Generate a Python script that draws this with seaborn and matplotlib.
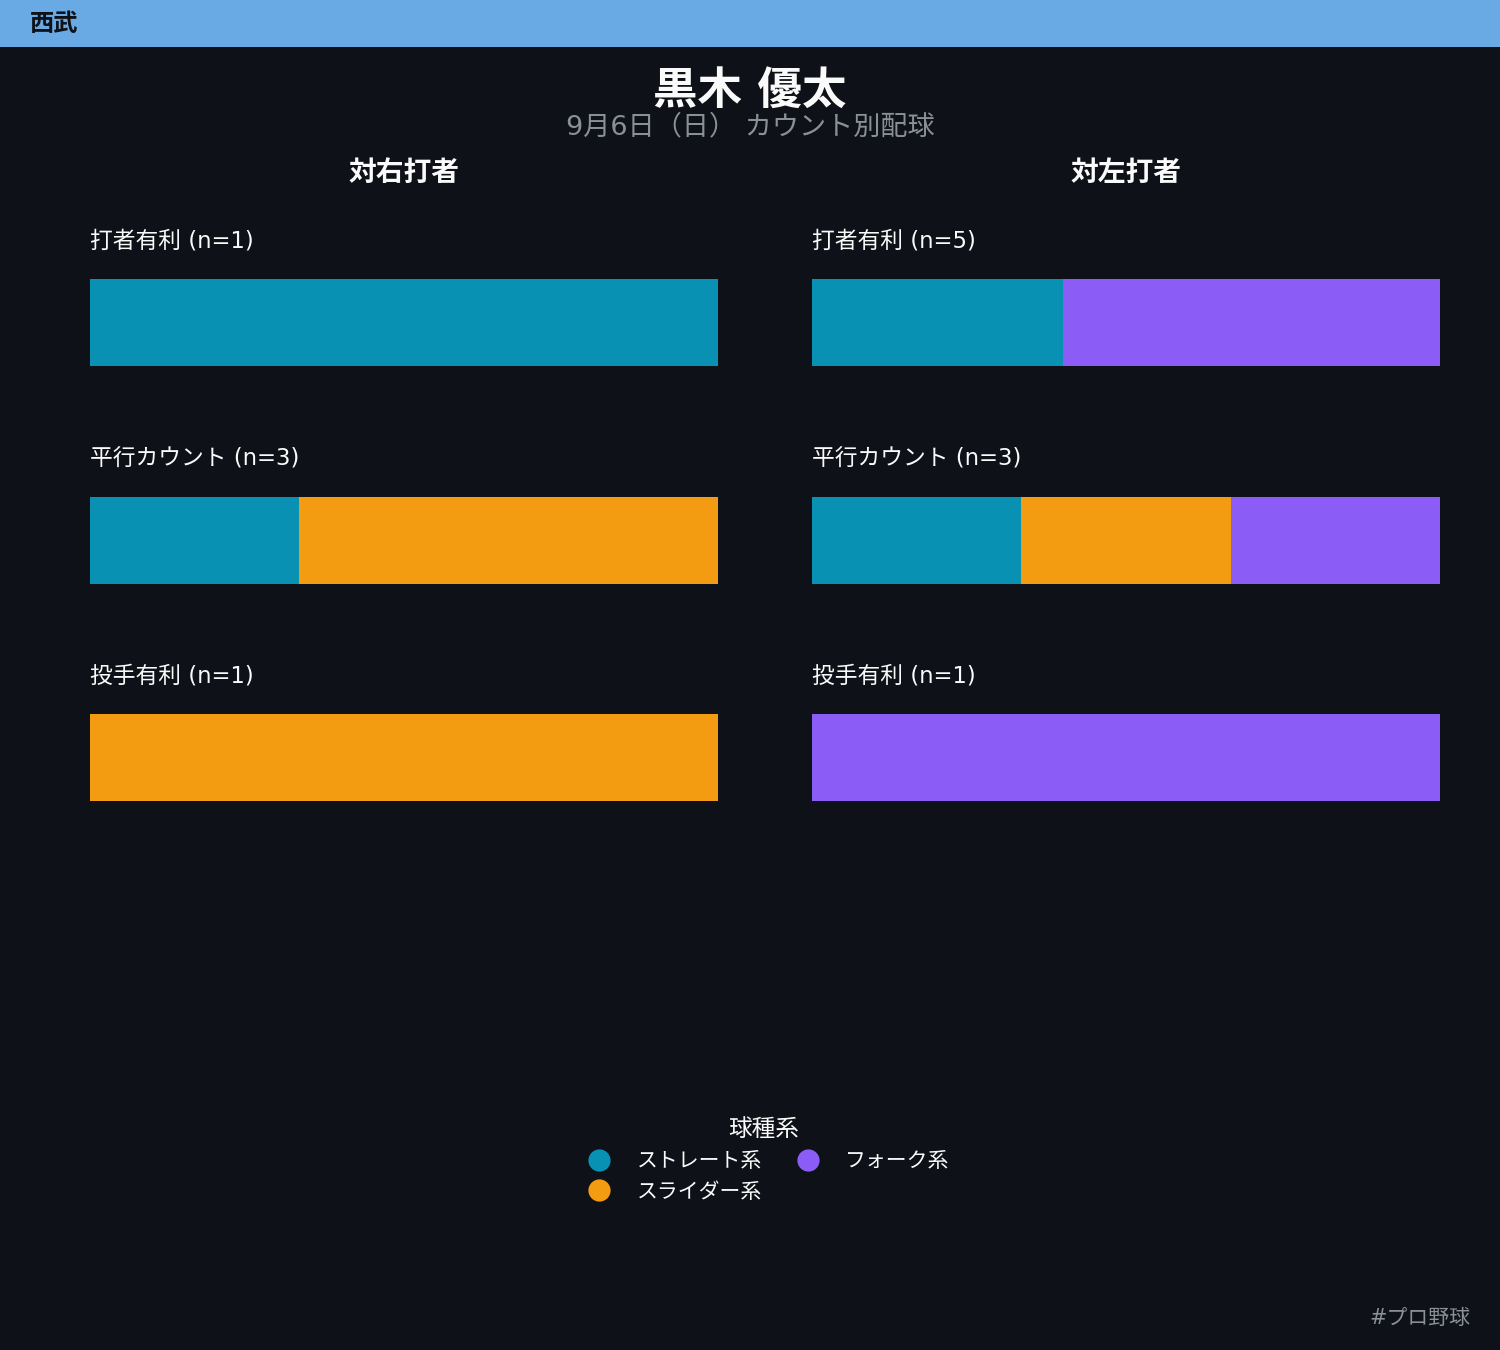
import numpy as np
import pandas as pd
import matplotlib
matplotlib.use("Agg")
import matplotlib.pyplot as plt
from matplotlib.lines import Line2D
import seaborn as sns

sns.set_theme(style="white")
plt.rcParams["font.family"] = ["DejaVu Sans", "Noto Sans CJK JP"]

# data
team = "西武"
pitcher = "黒木 優太"
subtitle = "9月6日（日） カウント別配球"
sides = ["対右打者", "対左打者"]
counts = ["打者有利", "平行カウント", "投手有利"]
pitch_types = ["ストレート系", "スライダー系", "フォーク系"]
vs_right_straight = [1, 1, 0]
vs_right_slider = [0, 2, 1]
vs_right_fork = [0, 0, 0]
vs_left_straight = [2, 1, 0]
vs_left_slider = [0, 1, 0]
vs_left_fork = [3, 1, 1]

colors = {"ストレート系": "#0891b2", "スライダー系": "#f39c12", "フォーク系": "#8b5cf6"}
bg = "#0e1117"

tables = {
    "対右打者": pd.DataFrame({"count": counts, "ストレート系": vs_right_straight,
                          "スライダー系": vs_right_slider, "フォーク系": vs_right_fork}),
    "対左打者": pd.DataFrame({"count": counts, "ストレート系": vs_left_straight,
                          "スライダー系": vs_left_slider, "フォーク系": vs_left_fork}),
}

fig = plt.figure(figsize=(15, 13.5), dpi=100, facecolor=bg)

# team banner
fig.patches.append(plt.Rectangle((0, 1 - 47 / 1350), 1, 47 / 1350, transform=fig.transFigure,
                                 facecolor="#6aaae4", edgecolor="none", zorder=0))
fig.text(30 / 1500, 1 - 24 / 1350, team, fontsize=17.5, fontweight="bold", color="#0e1117",
         ha="left", va="center")

fig.text(0.5, 1 - 91 / 1350, pitcher, fontsize=32, fontweight="bold", color="#fafafa",
         ha="center", va="center")
fig.text(0.5, 1 - 127 / 1350, subtitle, fontsize=19.5, color="#8b8f98", ha="center", va="center")

lefts = [90 / 1500, 812 / 1500]
width = 628 / 1500
bottom = 1 - 801 / 1350
height = 522 / 1350

for side, left in zip(sides, lefts):
    df = tables[side]
    n = df[pitch_types].sum(axis=1)
    share = df[pitch_types].div(n, axis=0)
    cum = share.cumsum(axis=1)
    ax = fig.add_axes([left, bottom, width, height])
    ax.set_facecolor(bg)
    # draw cumulative shares from the widest to the narrowest so they stack
    for pt in reversed(pitch_types):
        sns.barplot(x=cum[pt], y=df["count"], order=counts, orient="h", color=colors[pt],
                    width=0.4, saturation=1, ax=ax, linewidth=0)
    ax.set_xlim(0, 1)
    ax.set_ylim(2.2, -0.2)
    ax.set_xlabel("")
    ax.set_ylabel("")
    ax.set_xticks([])
    ax.set_yticks([])
    for s in ax.spines.values():
        s.set_visible(False)
    for i, (c, k) in enumerate(zip(counts, n)):
        ax.text(0, i - 0.375, f"{c} (n={k})", fontsize=16.4, color="#fafafa",
                ha="left", va="center")
    fig.text(left + width / 2, 1 - 173 / 1350, side, fontsize=20, fontweight="bold",
             color="#fafafa", ha="center", va="center")

handles = [Line2D([0], [0], marker="o", linestyle="none", markersize=16,
                  markerfacecolor=colors[pt], markeredgecolor="none") for pt in pitch_types]
leg = fig.legend(handles, pitch_types, title="球種系", ncol=2, loc="upper center",
                 bbox_to_anchor=(764 / 1500, 1 - 1098 / 1350), frameon=False,
                 fontsize=15, title_fontsize=17, labelcolor="#fafafa",
                 handletextpad=0.8, columnspacing=1.2, labelspacing=0.5)
leg.get_title().set_color("#fafafa")

fig.text(1470 / 1500, 1 - 1318 / 1350, "#プロ野球", fontsize=15, color="#8b8f98",
         ha="right", va="center")

fig.savefig("out.png", dpi=100, facecolor=bg)
